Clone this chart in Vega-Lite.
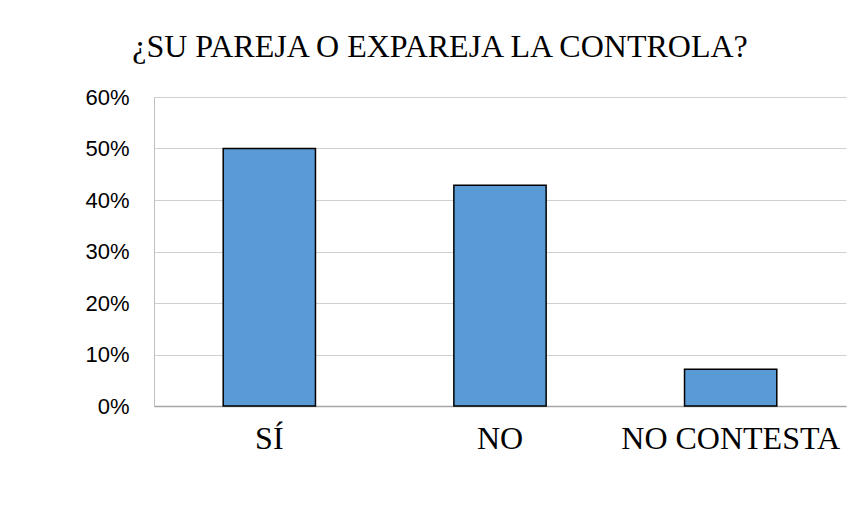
{
  "$schema": "https://vega.github.io/schema/vega-lite/v6.json",
  "width": 692,
  "height": 309,
  "autosize": {"type": "none"},
  "padding": {"left": 154, "top": 97, "right": 16, "bottom": 125},
  "background": "white",
  "title": {
    "text": "¿SU PAREJA O EXPAREJA LA CONTROLA?",
    "font": "Liberation Serif",
    "fontSize": 32,
    "fontWeight": "normal",
    "color": "#000000",
    "anchor": "middle",
    "frame": "group",
    "dx": -60,
    "dy": -12,
    "offset": 10
  },
  "data": {
    "values": [
      {"respuesta": "SÍ", "porcentaje": 0.5},
      {"respuesta": "NO", "porcentaje": 0.4286},
      {"respuesta": "NO CONTESTA", "porcentaje": 0.0714}
    ]
  },
  "mark": {"type": "bar", "color": "#5B9BD5", "stroke": "#000000", "strokeWidth": 1.5},
  "encoding": {
    "x": {
      "field": "respuesta",
      "type": "nominal",
      "sort": null,
      "scale": {"paddingInner": 0.6, "paddingOuter": 0.3},
      "axis": {
        "title": null,
        "labelAngle": 0,
        "labelFont": "Liberation Serif",
        "labelFontSize": 32,
        "labelLimit": 0,
        "labelColor": "#000000",
        "labelPadding": 17,
        "ticks": false,
        "domainColor": "#a6a6a6",
        "domainWidth": 1.5,
        "grid": false
      }
    },
    "y": {
      "field": "porcentaje",
      "type": "quantitative",
      "scale": {"domain": [0, 0.6]},
      "axis": {
        "title": null,
        "format": ".0%",
        "values": [0, 0.1, 0.2, 0.3, 0.4, 0.5, 0.6],
        "labelFont": "Liberation Sans",
        "labelFontSize": 22,
        "labelColor": "#000000",
        "labelPadding": 25,
        "ticks": false,
        "domainColor": "#bfbfbf",
        "domainWidth": 1,
        "gridColor": "#d0d0d0",
        "gridWidth": 1.2
      }
    }
  },
  "config": {"view": {"stroke": null}}
}
